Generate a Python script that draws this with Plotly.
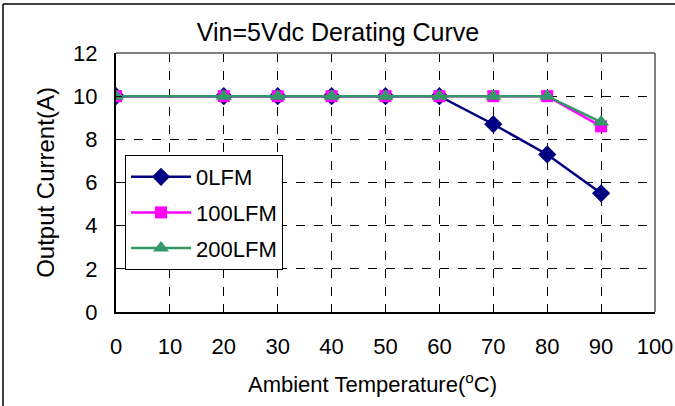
import plotly.graph_objects as go

temps = [0, 20, 30, 40, 50, 60, 70, 80, 90]
lfm0 = [10, 10, 10, 10, 10, 10, 8.7, 7.3, 5.5]
lfm100 = [10, 10, 10, 10, 10, 10, 10, 10, 8.6]
lfm200 = [10, 10, 10, 10, 10, 10, 10, 10, 8.8]
x_ticks = [0, 10, 20, 30, 40, 50, 60, 70, 80, 90, 100]
y_ticks = [0, 2, 4, 6, 8, 10, 12]

FONT = "Liberation Sans, Arial, sans-serif"

fig = go.Figure()
fig.add_trace(go.Scatter(x=temps, y=lfm0, name="0LFM", mode="lines+markers", legendgroup="a",
                         line=dict(color="#000080", width=2.5),
                         marker=dict(symbol="diamond", size=14, color="#000080")))
fig.add_trace(go.Scatter(x=temps, y=lfm100, name="100LFM", mode="lines+markers", legendgroup="b",
                         line=dict(color="#FF00FF", width=2.5),
                         marker=dict(symbol="square", size=12, color="#FF00FF")))
fig.add_trace(go.Scatter(x=temps, y=lfm200, name="200LFM", mode="lines+markers", legendgroup="c",
                         line=dict(color="#339966", width=2.5),
                         marker=dict(symbol="triangle-up", size=14, color="#339966")))

L, R, T, B = 116, 20, 53, 94
W, H = 675, 406
pw, ph = W - L - R, H - T - B

def px(x):
    return (x - L) / pw

def py(y):
    return (H - B - y) / ph

fig.update_layout(
    width=W, height=H,
    margin=dict(l=L, r=R, t=T, b=B),
    paper_bgcolor="white", plot_bgcolor="white",
    font=dict(family=FONT, size=22, color="black"),
    title=dict(text="Vin=5Vdc Derating Curve", x=338 / W, xanchor="center", xref="container",
               y=1 - 32 / H, yanchor="middle", font=dict(size=25, family=FONT, color="black")),
    xaxis=dict(range=[0, 100], tickvals=x_ticks, ticks="inside", ticklen=8,
               tickcolor="black", showgrid=True, gridcolor="black", griddash="dash",
               gridwidth=1, showline=True, linecolor="black", linewidth=2,
               ticklabelstandoff=14, zeroline=False, automargin=False,
               tickfont=dict(size=22)),
    yaxis=dict(range=[0, 12], tickvals=y_ticks, ticks="inside", ticklen=6,
               tickcolor="black", showgrid=True, gridcolor="black", griddash="dash",
               gridwidth=1, showline=True, linecolor="black", linewidth=2,
               ticklabelstandoff=12, zeroline=False, automargin=False,
               tickfont=dict(size=22),
               title=dict(text="Output Current(A)", standoff=12, font=dict(size=24))),
    legend=dict(x=px(125), y=py(155), xanchor="left", yanchor="top",
                bgcolor="white", bordercolor="black", borderwidth=1,
                font=dict(size=22), itemwidth=60, traceorder="grouped", tracegroupgap=4),
    showlegend=True,
)

fig.add_annotation(text="Ambient Temperature(<sup>o</sup>C)", xref="paper", yref="paper",
                   x=px(372), y=py(383), xanchor="center", yanchor="middle",
                   showarrow=False, font=dict(size=22))

# gray top/right plot-area border
fig.add_shape(type="line", xref="paper", yref="paper", x0=0, x1=1, y0=1, y1=1,
              line=dict(color="#808080", width=2), layer="above")
fig.add_shape(type="line", xref="paper", yref="paper", x0=1, x1=1, y0=0, y1=1,
              line=dict(color="#808080", width=2), layer="above")
# outer frame (left and top)
fig.add_shape(type="line", xref="paper", yref="paper", x0=px(3), x1=px(3), y0=py(406), y1=py(4),
              line=dict(color="black", width=1.5), layer="above")
fig.add_shape(type="line", xref="paper", yref="paper", x0=px(3), x1=px(676), y0=py(4), y1=py(4),
              line=dict(color="black", width=1.5), layer="above")

fig.write_html("out.html", config={"displayModeBar": False},
               post_script="document.body.style.margin='0';")
